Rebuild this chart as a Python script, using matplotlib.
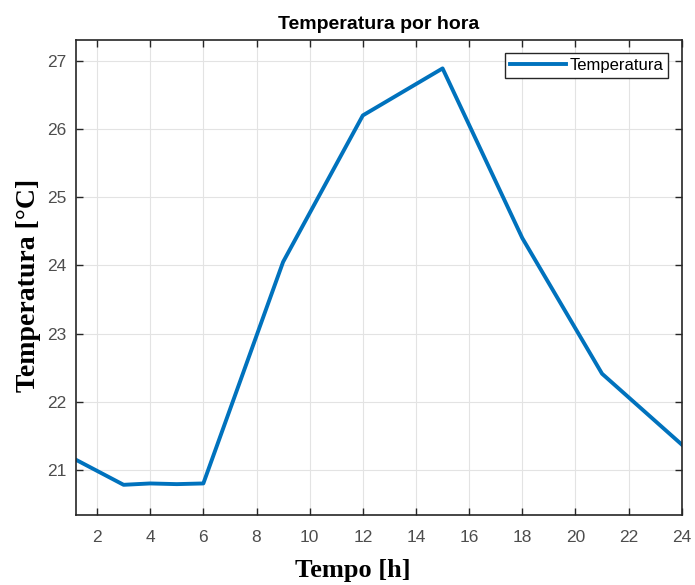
import matplotlib.pyplot as plt

# hourly temperature readings
horas = [1, 3, 4, 5, 6, 9, 12, 15, 18, 21, 24]
temperatura = [21.19, 20.78, 20.80, 20.79, 20.80, 24.05, 26.20, 26.89, 24.40, 22.41, 21.37]
xticks = list(range(2, 25, 2))
yticks = list(range(21, 28))

plt.rcParams['font.family'] = ['Liberation Sans', 'DejaVu Sans']

fig = plt.figure(figsize=(6.95, 5.85), dpi=100)
ax = fig.add_axes([0.109, 0.12, 0.872, 0.812])

ax.plot(horas, temperatura, color='#0072BD', linewidth=2.8, label='Temperatura')

ax.set_xlim(1.2, 24)
ax.set_ylim(20.34, 27.31)
ax.set_xticks(xticks)
ax.set_yticks(yticks)
ax.grid(True, color='#e3e3e3', linewidth=0.8)
ax.set_axisbelow(True)

ax.tick_params(direction='in', top=True, right=True, length=5, width=1,
               colors='#262626', labelcolor='#4d4d4d', labelsize=12.5)
ax.tick_params(axis='x', pad=11)
ax.tick_params(axis='y', pad=7)
for s in ax.spines.values():
    s.set_color('#262626')
    s.set_linewidth(1.2)

ax.set_title('Temperatura por hora', fontsize=14, fontweight='bold', pad=8)
ax.set_xlabel('Tempo [h]', fontsize=19, fontweight='bold',
              family=['Liberation Serif', 'DejaVu Serif'])
ax.xaxis.set_label_coords(0.457, -0.092)
ax.set_ylabel('Temperatura [°C]', fontsize=20, fontweight='bold',
              family=['Liberation Serif', 'DejaVu Serif'])
ax.yaxis.set_label_coords(-0.058, 0.482)

leg = ax.legend(loc='upper right', fontsize=12, fancybox=False, framealpha=1,
                edgecolor='#262626', handlelength=3.4, handletextpad=0.2,
                borderaxespad=0.8, borderpad=0.3)
leg.get_frame().set_linewidth(1.0)

fig.savefig('out.png', dpi=100)
